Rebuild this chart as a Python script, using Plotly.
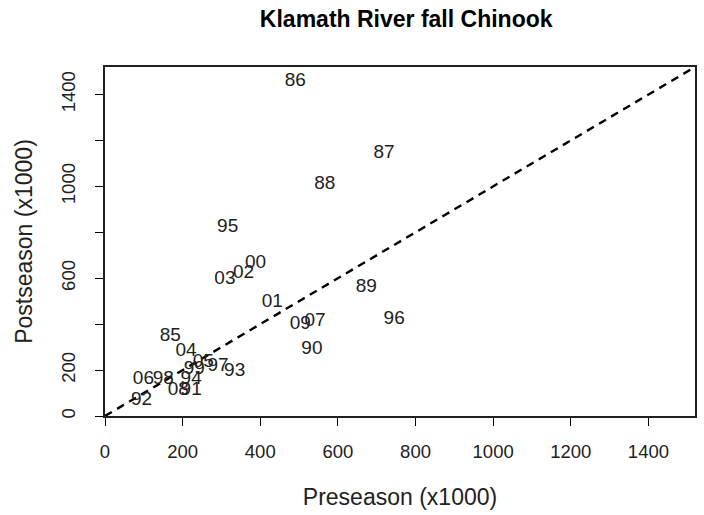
import plotly.graph_objects as go

years = ["85", "86", "87", "88", "89", "90", "91", "92", "93", "94", "95", "96", "97",
         "98", "99", "00", "01", "02", "03", "04", "05", "06", "07", "08", "09"]
preseason = [168, 490, 719, 566, 673, 533, 222, 94, 334, 222, 316, 745, 291,
             150, 230, 388, 431, 357, 309, 209, 253, 99, 541, 189, 503]
postseason = [346, 1456, 1145, 1009, 561, 289, 114, 70, 193, 162, 820, 421, 215,
              162, 202, 667, 496, 623, 596, 281, 232, 162, 412, 114, 399]
tick_vals = [0, 200, 400, 600, 800, 1000, 1200, 1400]
x_tick_text = ["0", "200", "400", "600", "800", "1000", "1200", "1400"]
y_tick_text = ["0", "200", "", "600", "", "1000", "", "1400"]
axis_max = 1520

font_family = "Liberation Sans, Arial, sans-serif"

fig = go.Figure()
fig.add_trace(go.Scatter(
    x=[0, axis_max], y=[0, axis_max], mode="lines",
    line=dict(color="black", width=2.4, dash="8px,6px"),
    hoverinfo="skip", showlegend=False))
fig.add_trace(go.Scatter(
    x=preseason, y=postseason, text=years, mode="text",
    textposition="middle center",
    textfont=dict(family=font_family, size=19, color="#222222"),
    showlegend=False))

axis_common = dict(
    range=[0, axis_max], tickvals=tick_vals, ticks="outside", ticklen=8,
    tickwidth=1.3, tickcolor="black", showline=True, linecolor="#222222",
    linewidth=2.2, mirror=True, showgrid=False, zeroline=False,
    tickfont=dict(family=font_family, size=18.5, color="#222222"),
)

fig.update_layout(
    width=704, height=515,
    margin=dict(l=105, r=7, t=67, b=99),
    paper_bgcolor="white", plot_bgcolor="white",
    title=dict(text="<b>Klamath River fall Chinook</b>", x=0.577, xanchor="center",
               y=1 - 19 / 515, yanchor="middle",
               font=dict(family=font_family, size=23, color="black")),
    xaxis=dict(**axis_common, ticktext=x_tick_text, ticklabelstandoff=10,
               title=dict(text="Preseason (x1000)", standoff=28,
                          font=dict(family=font_family, size=23, color="#222222"))),
    yaxis=dict(**axis_common, ticktext=y_tick_text, tickangle=-90,
               ticklabelstandoff=13,
               title=dict(text="Postseason (x1000)", standoff=18,
                          font=dict(family=font_family, size=23, color="#222222"))),
)

fig.write_html("out.html")
